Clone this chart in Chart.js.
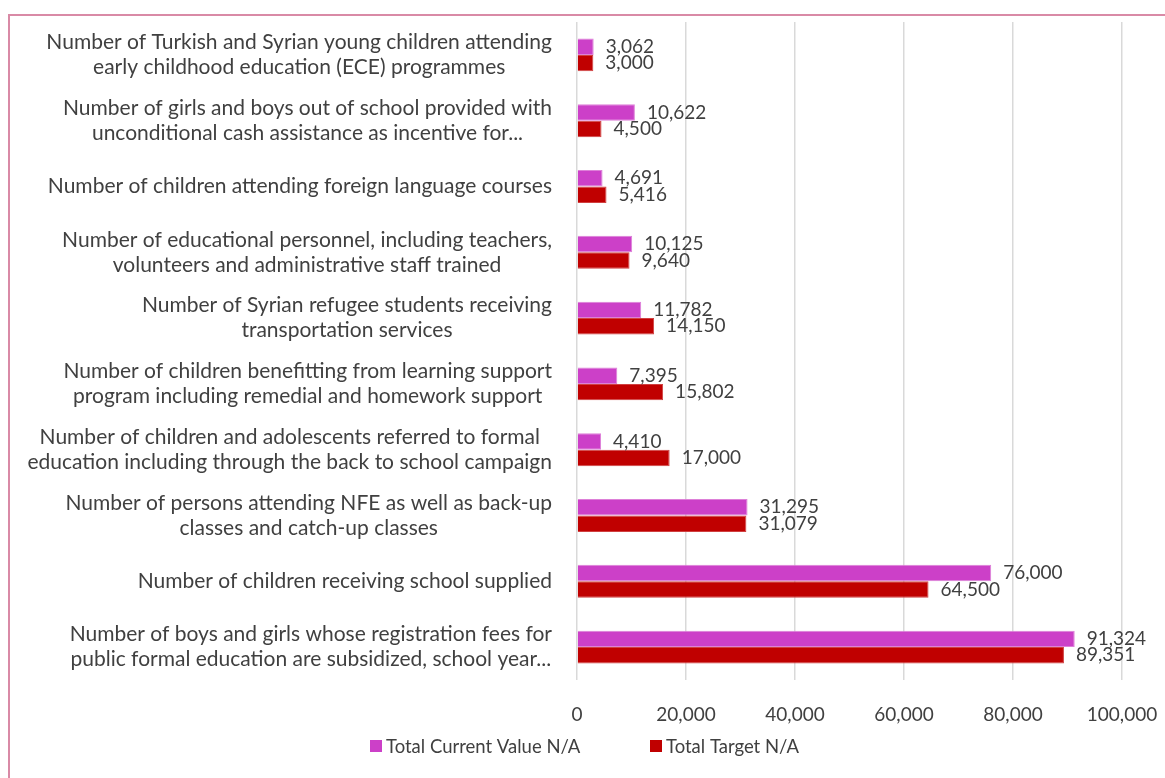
<!DOCTYPE html>
<html>
<head>
<meta charset="utf-8">
<script src="https://cdn.jsdelivr.net/npm/chart.js@4.4.1/dist/chart.umd.min.js"></script>
<style>
  html, body { margin: 0; padding: 0; background: #ffffff; }
  #wrap { position: relative; width: 1165px; height: 778px; }
</style>
</head>
<body>
<div id="wrap"><canvas id="chart"></canvas></div>
<script>
// Indicator names (multi-line the way the source wraps them)
const categories = [
  ['Number of Turkish and Syrian young children attending', 'early childhood education (ECE) programmes'],
  ['Number of girls and boys out of school provided with', 'unconditional cash assistance as incentive for...'],
  ['Number of children attending foreign language courses'],
  ['Number of educational personnel, including teachers,', 'volunteers and administrative staff trained'],
  ['Number of Syrian refugee students receiving', 'transportation services'],
  ['Number of children benefitting from learning support', 'program including remedial and homework support'],
  ['Number of children and adolescents referred to formal', 'education including through the back to school campaign'],
  ['Number of persons attending NFE as well as back-up', 'classes and catch-up classes'],
  ['Number of children receiving school supplied'],
  ['Number of boys and girls whose registration fees for', 'public formal education are subsidized, school year...']
];
const currentValues = [3062, 10622, 4691, 10125, 11782, 7395, 4410, 31295, 76000, 91324];
const targetValues = [3000, 4500, 5416, 9640, 14150, 15802, 17000, 31079, 64500, 89351];
const seriesNames = ['Total Current Value N/A', 'Total Target N/A'];
const xTicks = [0, 20000, 40000, 60000, 80000, 100000];

const FONT = 'Lato, "Open Sans", sans-serif';
const TEXT = '#404040';
const fmt = v => v.toLocaleString('en-US');

// Frame like the pasted Excel chart (top and left edge only visible)
const framePlugin = {
  id: 'frame',
  beforeDraw(chart) {
    const ctx = chart.ctx;
    ctx.save();
    ctx.strokeStyle = '#d98aa6';
    ctx.lineWidth = 2;
    ctx.beginPath();
    ctx.moveTo(9, chart.height);
    ctx.lineTo(9, 15);
    ctx.lineTo(chart.width, 15);
    ctx.stroke();
    ctx.restore();
  }
};

// Category labels: block right aligned, lines centred on each other
const catLabelPlugin = {
  id: 'catLabels',
  afterDraw(chart) {
    const ctx = chart.ctx;
    const y = chart.scales.y;
    const right = chart.scales.x.left - 25;
    const lh = 25;
    ctx.save();
    ctx.font = '21px ' + FONT;
    ctx.fillStyle = TEXT;
    ctx.textAlign = 'center';
    ctx.textBaseline = 'middle';
    categories.forEach((lines, i) => {
      const yc = y.getPixelForTick(i);
      const w = Math.max(...lines.map(l => ctx.measureText(l).width));
      const cx = right - w / 2;
      lines.forEach((l, j) => {
        ctx.fillText(l, cx, yc - (lines.length - 1) * lh / 2 + j * lh);
      });
    });
    ctx.restore();
  }
};

// Value labels just past the end of each bar
const valueLabelPlugin = {
  id: 'valueLabels',
  afterDatasetsDraw(chart) {
    const ctx = chart.ctx;
    ctx.save();
    ctx.font = '19px ' + FONT;
    ctx.fillStyle = TEXT;
    ctx.textAlign = 'left';
    ctx.textBaseline = 'middle';
    chart.data.datasets.forEach((ds, di) => {
      chart.getDatasetMeta(di).data.forEach((bar, i) => {
        ctx.fillText(fmt(ds.data[i]), bar.x + 12, bar.y);
      });
    });
    ctx.restore();
  }
};

// Legend drawn by hand so the two items sit where Excel put them
const legendPlugin = {
  id: 'bottomLegend',
  afterDraw(chart) {
    const ctx = chart.ctx;
    const box = 12, gap = 4, cy = 746;
    const starts = [370, 650];
    ctx.save();
    ctx.font = '18.5px ' + FONT;
    ctx.textBaseline = 'middle';
    chart.data.datasets.forEach((ds, i) => {
      const x = starts[i];
      ctx.fillStyle = ds.backgroundColor;
      ctx.fillRect(x, cy - box / 2, box, box);
      ctx.fillStyle = TEXT;
      ctx.fillText(ds.label, x + box + gap, cy + 1);
    });
    ctx.restore();
  }
};

new Chart(document.getElementById('chart'), {
  type: 'bar',
  data: {
    labels: categories,
    datasets: [
      { label: seriesNames[0], data: currentValues, backgroundColor: '#cc40c8', borderColor: '#dd80d8', borderWidth: 1 },
      { label: seriesNames[1], data: targetValues, backgroundColor: '#c00000', borderColor: '#d04040', borderWidth: 1 }
    ]
  },
  options: {
    indexAxis: 'y',
    responsive: true,
    maintainAspectRatio: false,
    animation: false,
    layout: { padding: { top: 22, left: 20, right: 0, bottom: 0 } },
    datasets: { bar: { categoryPercentage: 0.5, barPercentage: 1 } },
    plugins: {
      legend: { display: false },
      tooltip: { enabled: false }
    },
    scales: {
      x: {
        min: 0,
        max: 100000,
        afterFit: s => { s.height = 98; s.paddingRight = 43; },
        afterBuildTicks: s => { s.ticks = xTicks.map(v => ({ value: v })); },
        border: { display: false },
        grid: { color: '#d9d9d9', lineWidth: 1.5, drawTicks: false },
        ticks: { padding: 23, color: TEXT, font: { family: FONT, size: 19 }, callback: v => fmt(v) }
      },
      y: {
        afterFit: s => { s.width = 557; },
        border: { display: false },
        grid: { display: false, drawTicks: false },
        ticks: { display: false }
      }
    }
  },
  plugins: [framePlugin, catLabelPlugin, valueLabelPlugin, legendPlugin]
});
</script>
</body>
</html>
